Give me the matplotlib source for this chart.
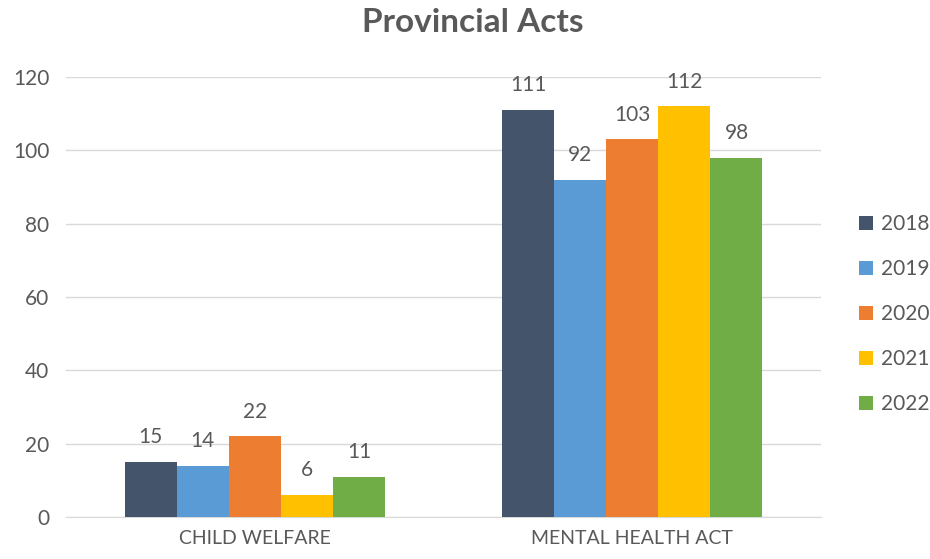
import matplotlib
matplotlib.use("Agg")
import matplotlib.pyplot as plt
import numpy as np

categories = ["CHILD WELFARE", "MENTAL HEALTH ACT"]
years = ["2018", "2019", "2020", "2021", "2022"]
values = {
    "2018": [15, 111],
    "2019": [14, 92],
    "2020": [22, 103],
    "2021": [6, 112],
    "2022": [11, 98],
}
colors = ["#44546A", "#5B9BD5", "#ED7D31", "#FFC000", "#70AD47"]

plt.rcParams['font.family'] = ['Lato', 'DejaVu Sans']
txt = "#595959"

fig = plt.figure(figsize=(9.3, 5.59), dpi=100)
ax = fig.add_axes([66/930, 42/559, 755/930, 440/559])

x = np.arange(len(categories))
bw = 0.138
for i, (y, c) in enumerate(zip(years, colors)):
    pos = x + (i - 2) * bw
    bars = ax.bar(pos, values[y], width=bw, color=c, label=y, zorder=3)
    for b, v in zip(bars, values[y]):
        ax.text(b.get_x() + b.get_width()/2, v + 4, str(v), ha='center', va='bottom',
                fontsize=15, color=txt)

ax.set_xlim(-0.5, 1.5)
ax.set_ylim(0, 120)
ax.set_yticks(range(0, 121, 20))
ax.yaxis.grid(True, color="#D9D9D9", linewidth=1, zorder=0)
ax.set_xticks(x)
ax.set_xticklabels(categories, fontsize=14, color=txt)
ax.tick_params(axis='y', labelsize=15, colors=txt, length=0, pad=12)
ax.tick_params(axis='x', length=0, pad=9)
for s in ['top', 'right', 'left']:
    ax.spines[s].set_visible(False)
ax.spines['bottom'].set_color("#D9D9D9")

fig.text(473/930, 1 - 22/559, "Provincial Acts", ha='center', va='center',
         fontsize=24, fontweight='bold', color=txt)

leg = fig.legend(loc='center left', bbox_to_anchor=(859/930, 1 - 314/559), frameon=False,
                 fontsize=15, labelcolor=txt, handlelength=0.65, handleheight=0.65,
                 handletextpad=0.4, labelspacing=1.2, borderpad=0, borderaxespad=0)

fig.savefig("out.png", dpi=100)
